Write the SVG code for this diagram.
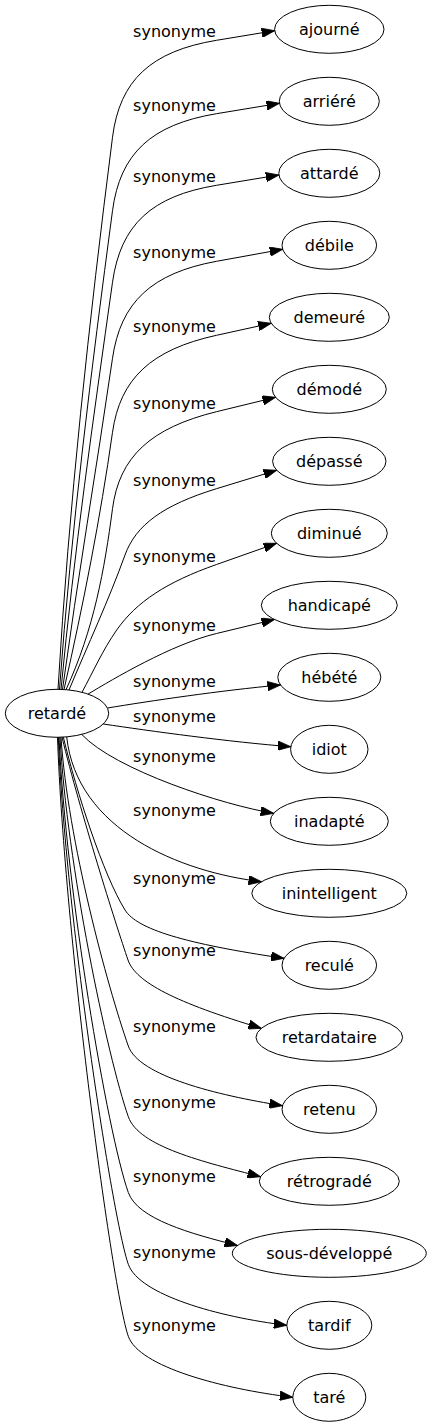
<svg xmlns="http://www.w3.org/2000/svg" width="431" height="1427" viewBox="0 0 431 1427">
<style>
  .n ellipse { fill: none; stroke: #000; stroke-width: 1; }
  .n text { font-family: "DejaVu Sans", "Liberation Sans", sans-serif; font-size: 16px; text-anchor: middle; fill: #000; }
  .e path { fill: none; stroke: #000; stroke-width: 1; marker-end: url(#arrow); }
  .e text { font-family: "DejaVu Sans", "Liberation Sans", sans-serif; font-size: 16px; text-anchor: middle; fill: #000; }
</style>
<defs>
  <marker id="arrow" markerUnits="userSpaceOnUse" viewBox="0 0 13 9.4" markerWidth="13" markerHeight="9.4" refX="13" refY="4.7" orient="auto">
    <path d="M0,0 L13,4.7 L0,9.4 Z" fill="#000" stroke="#000" stroke-width="0.8"/>
  </marker>
</defs>
<rect width="431" height="1427" fill="#fff"/>
<g id="connectors" class="e">
  <g id="e1"><path d="M58,689.3 C68.9,505.3 89.1,321.3 112.5,137.3 C119.7,80.2 150.9,51.2 216.5,40.3 L274.7,30.7"/><text x="174.5" y="37.3">synonyme</text></g>
  <g id="e2"><path d="M59.5,689.3 C71.2,529.8 91.3,370.2 112.5,210.7 C120.1,153.4 151.3,124.5 216.5,113.7 L279.5,103.3"/><text x="174.5" y="110.7">synonyme</text></g>
  <g id="e3"><path d="M61,689.4 C73.9,553.7 93.4,418 112.5,282.3 C120.6,224.6 151.8,196 216.5,185.3 L278.9,175"/><text x="174.5" y="182.3">synonyme</text></g>
  <g id="e4"><path d="M62.5,689.4 C77.5,579 96.5,468.7 112.5,358.3 C120.6,302.1 151.8,273.2 216.5,261.3 L282.7,249.3"/><text x="174.5" y="258.3">synonyme</text></g>
  <g id="e5"><path d="M64,689.5 C83.4,603.8 100.4,518 112.5,432.3 C120.1,378.5 151.3,349.6 216.5,335.3 L271.2,323.3"/><text x="174.5" y="332.3">synonyme</text></g>
  <g id="e6"><path d="M66,689.7 C93.9,629.4 104.6,569 112.5,508.7 C119.3,456.9 150.5,427.9 216.5,411.7 L275.6,397.3"/><text x="174.5" y="408.7">synonyme</text></g>
  <g id="e7"><path d="M69,690 C87.8,645 108.8,600 125,555 C135.9,524.9 163.3,505 216.5,488.7 L276.7,470.3"/><text x="174.5" y="485.7">synonyme</text></g>
  <g id="e8"><path d="M82,692.3 C93,672 102.7,650 116.7,630 C136.4,601.9 166.3,582.2 216.5,564.5 L276.6,543.3"/><text x="174.5" y="561.5">synonyme</text></g>
  <g id="e9"><path d="M88,694.1 C113,679.1 171.5,644.3 216.5,633.5 L274.5,619.5"/><text x="174.5" y="630.5">synonyme</text></g>
  <g id="e10"><path d="M107.5,708 C150,701 220,690.5 280.5,685"/><text x="174.5" y="686.5">synonyme</text></g>
  <g id="e11"><path d="M103.3,724 C150,731 230,742 290.8,746.7"/><text x="174.5" y="722.3">synonyme</text></g>
  <g id="e12"><path d="M81.7,734.4 C115,770 223.7,805.2 273.7,813.3"/><text x="174.5" y="761.7">synonyme</text></g>
  <g id="e13"><path d="M66.7,736.9 C76.7,830 180,872 261.5,881.7"/><text x="174.5" y="815.7">synonyme</text></g>
  <g id="e14"><path d="M63.3,737 C76.5,792 103.3,875 125,910 C136.9,929.2 184.6,943.7 284,958.3"/><text x="174.5" y="884">synonyme</text></g>
  <g id="e15"><path d="M62,737.2 C80,811 116,925 128,960 C135.6,982.1 175.6,1002.6 261.4,1028.3"/><text x="174.5" y="956.3">synonyme</text></g>
  <g id="e16"><path d="M61,737.2 C67.7,840.1 107.3,986 128.3,1046 C138.8,1075.9 216.2,1095.1 282.5,1105.7"/><text x="174.5" y="1032.3">synonyme</text></g>
  <g id="e17"><path d="M60,737.3 C66.8,863.8 107.3,1056.7 128.3,1116.7 C138.8,1146.7 203.7,1161.9 260.6,1176.7"/><text x="174.5" y="1108.3">synonyme</text></g>
  <g id="e18"><path d="M59,737.3 C65.9,889 107.3,1132.5 128.3,1192.5 C137.6,1219 190.6,1233.7 237.6,1245.5"/><text x="174.5" y="1182.3">synonyme</text></g>
  <g id="e19"><path d="M58.3,737.3 C65.3,913 112.5,1219.3 128.3,1264.3 C139,1294.8 218.6,1317.1 286.8,1325.3"/><text x="174.5" y="1257.7">synonyme</text></g>
  <g id="e20"><path d="M57.5,737.3 C64.6,937 112.5,1291.3 128.3,1336.3 C139,1366.8 222.1,1388.8 292.8,1397.3"/><text x="174.5" y="1331">synonyme</text></g>
</g>
<g id="node-retarde" class="n"><ellipse cx="57" cy="713.3" rx="51.7" ry="24"/><text x="57" y="718.8">retardé</text></g>
<g id="node-ajourne" class="n"><ellipse cx="329.3" cy="29.3" rx="54.7" ry="24"/><text x="329.3" y="34.8">ajourné</text></g>
<g id="node-arriere" class="n"><ellipse cx="329.3" cy="101.3" rx="50" ry="24"/><text x="329.3" y="106.8">arriéré</text></g>
<g id="node-attarde" class="n"><ellipse cx="329.3" cy="173.3" rx="50.5" ry="24"/><text x="329.3" y="178.8">attardé</text></g>
<g id="node-debile" class="n"><ellipse cx="329.3" cy="245.3" rx="47.3" ry="24"/><text x="329.3" y="250.8">débile</text></g>
<g id="node-demeure" class="n"><ellipse cx="329.3" cy="317.3" rx="60" ry="24"/><text x="329.3" y="322.8">demeuré</text></g>
<g id="node-demode" class="n"><ellipse cx="329.3" cy="389.3" rx="57" ry="24"/><text x="329.3" y="394.8">démodé</text></g>
<g id="node-depasse" class="n"><ellipse cx="329.3" cy="461.3" rx="56.7" ry="24"/><text x="329.3" y="466.8">dépassé</text></g>
<g id="node-diminue" class="n"><ellipse cx="329.3" cy="533.3" rx="58" ry="24"/><text x="329.3" y="538.8">diminué</text></g>
<g id="node-handicape" class="n"><ellipse cx="329.3" cy="605.3" rx="68" ry="24"/><text x="329.3" y="610.8">handicapé</text></g>
<g id="node-hebete" class="n"><ellipse cx="329.3" cy="677.3" rx="51.5" ry="24"/><text x="329.3" y="682.8">hébété</text></g>
<g id="node-idiot" class="n"><ellipse cx="329.3" cy="749.3" rx="38.7" ry="24"/><text x="329.3" y="754.8">idiot</text></g>
<g id="node-inadapte" class="n"><ellipse cx="329.3" cy="821.3" rx="59" ry="24"/><text x="329.3" y="826.8">inadapté</text></g>
<g id="node-inintelligent" class="n"><ellipse cx="329.3" cy="893.3" rx="77.5" ry="24"/><text x="329.3" y="898.8">inintelligent</text></g>
<g id="node-recule" class="n"><ellipse cx="329.3" cy="965.3" rx="47.3" ry="24"/><text x="329.3" y="970.8">reculé</text></g>
<g id="node-retardataire" class="n"><ellipse cx="329.3" cy="1037.3" rx="73.3" ry="24"/><text x="329.3" y="1042.8">retardataire</text></g>
<g id="node-retenu" class="n"><ellipse cx="329.3" cy="1109.3" rx="47.3" ry="24"/><text x="329.3" y="1114.8">retenu</text></g>
<g id="node-retrograde" class="n"><ellipse cx="329.3" cy="1181.3" rx="70" ry="24"/><text x="329.3" y="1186.8">rétrogradé</text></g>
<g id="node-sous-developpe" class="n"><ellipse cx="329.3" cy="1253.3" rx="97" ry="24"/><text x="329.3" y="1258.8">sous-développé</text></g>
<g id="node-tardif" class="n"><ellipse cx="329.3" cy="1325.3" rx="42.5" ry="24"/><text x="329.3" y="1330.8">tardif</text></g>
<g id="node-tare" class="n"><ellipse cx="329.3" cy="1397.3" rx="36.5" ry="24"/><text x="329.3" y="1402.8">taré</text></g>
</svg>
